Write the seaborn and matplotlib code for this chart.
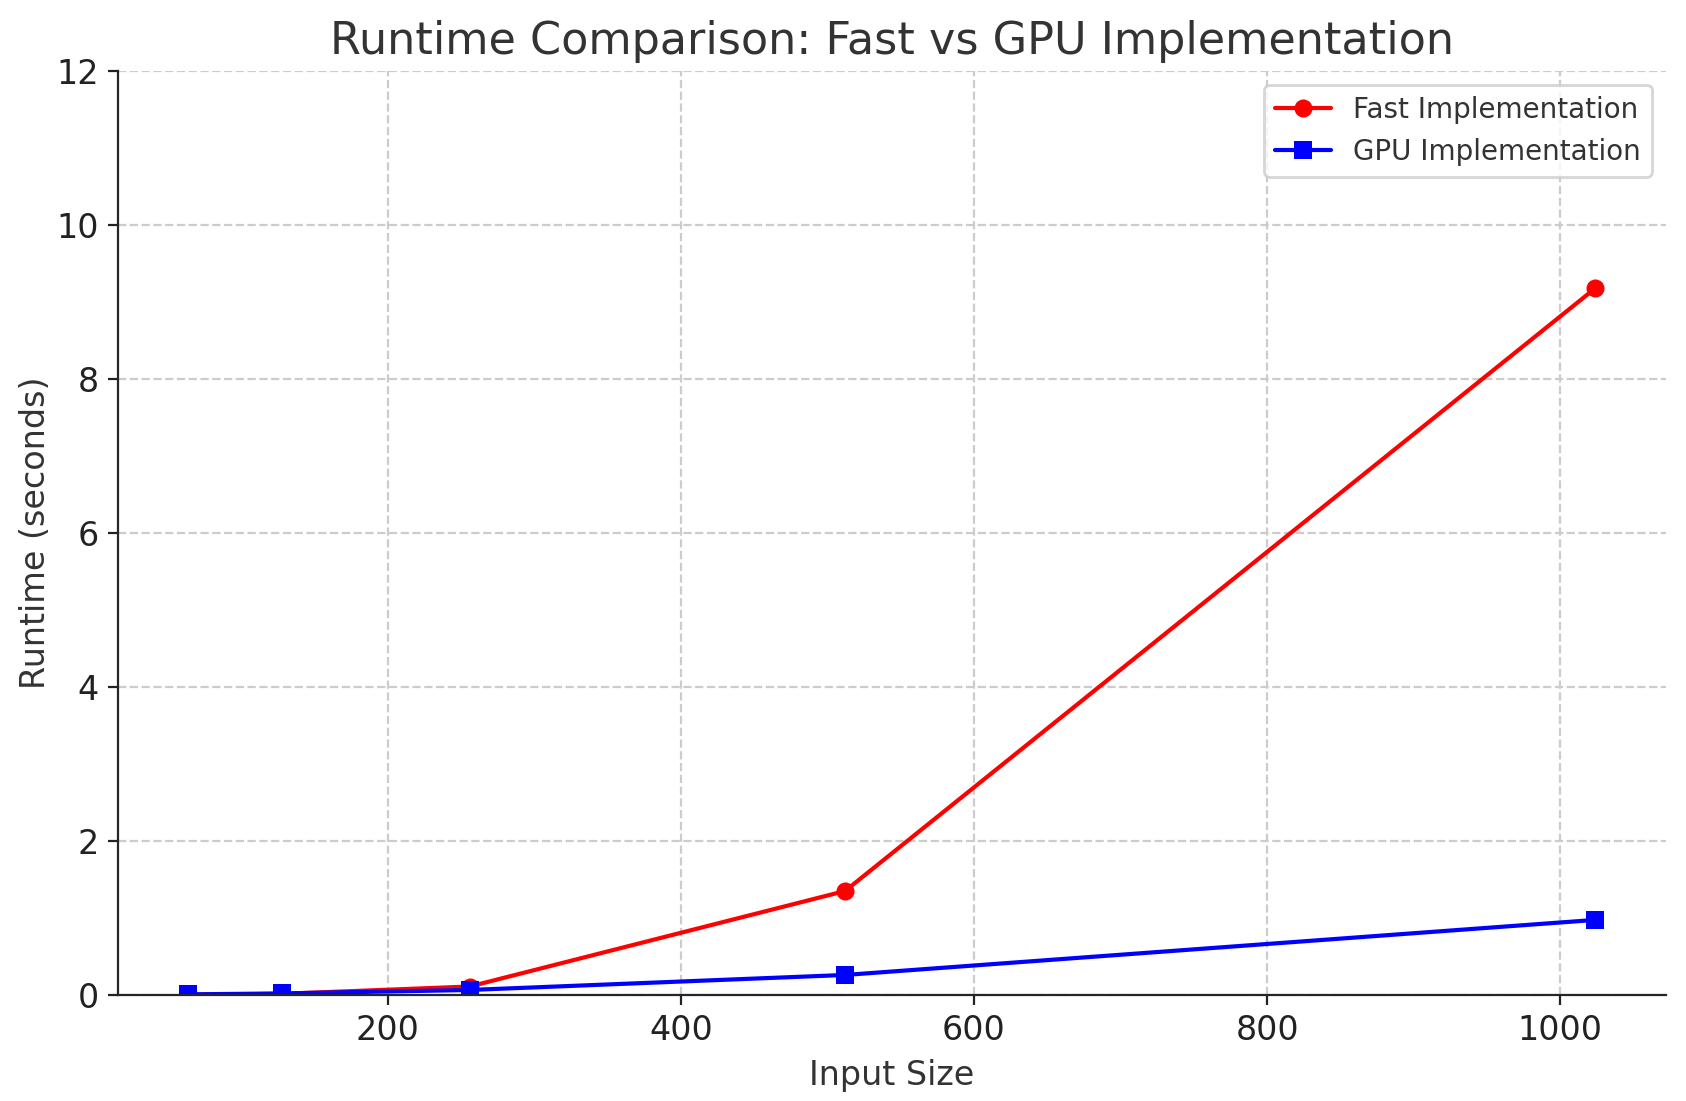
import pandas as pd
import matplotlib.pyplot as plt
import seaborn as sns

input_sizes = [64, 128, 256, 512, 1024]
fast_runtime = [0.003, 0.015, 0.11, 1.35, 9.18]
gpu_runtime = [0.008, 0.02, 0.065, 0.26, 0.975]

sns.set_style('ticks')
plt.rcParams['font.family'] = ['DejaVu Sans']
plt.rcParams['text.color'] = '#333333'
plt.rcParams['axes.labelcolor'] = '#333333'

df = pd.DataFrame({
    'size': input_sizes * 2,
    'runtime': fast_runtime + gpu_runtime,
    'impl': ['Fast Implementation'] * 5 + ['GPU Implementation'] * 5,
})

fig, ax = plt.subplots(figsize=(8.43, 5.505), dpi=200)
fig.subplots_adjust(left=0.070, right=0.988, top=0.9355, bottom=0.0963)

sns.lineplot(data=df, x='size', y='runtime', hue='impl', style='impl',
             palette={'Fast Implementation': 'red', 'GPU Implementation': 'blue'},
             markers={'Fast Implementation': 'o', 'GPU Implementation': 's'},
             dashes=False, linewidth=1.5, markersize=6.5, markeredgewidth=0, ax=ax)

ax.set_ylim(0, 12)
ax.set_title('Runtime Comparison: Fast vs GPU Implementation', fontsize=16)
ax.set_xlabel('Input Size', fontsize=12)
ax.set_ylabel('Runtime (seconds)', fontsize=12, labelpad=1.5)
ax.tick_params(labelsize=12, colors='#222222')
ax.grid(True, linestyle='--', color='#cccccc', linewidth=0.8)
sns.despine(ax=ax)
leg = ax.legend(title=None, loc='upper right', fontsize=10)
for t in leg.get_texts():
    t.set_color('#333333')

plt.savefig('out.png')
